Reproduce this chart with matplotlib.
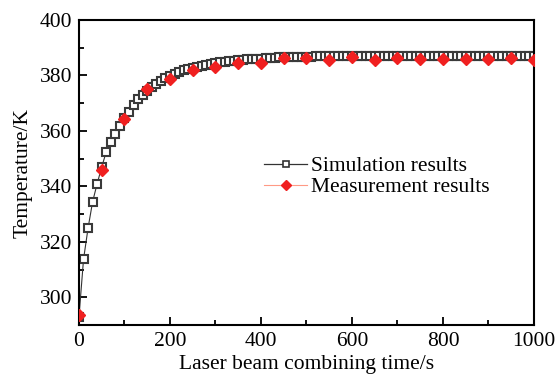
"""
Temperature vs. laser beam combining time
"""
import numpy as np
import matplotlib.pyplot as plt
from matplotlib import rcParams
from matplotlib.lines import Line2D
from matplotlib.ticker import MultipleLocator

rcParams['font.family'] = 'serif'
rcParams['font.serif'] = ['Liberation Serif', 'DejaVu Serif']
rcParams['font.size'] = 15.5
rcParams['mathtext.fontset'] = 'stix'

# simulation, every 10 s from 0 to 1000 s
sim_time = np.arange(0, 1001, 10)
sim_temp = [
    293.0, 313.7, 325.0, 334.5, 341.0, 347.0, 352.5, 356.0, 359.0, 361.8,
    364.5, 367.0, 369.5, 371.5, 373.0, 374.5, 375.8, 377.0, 378.0, 379.0,
    379.8, 380.6, 381.2, 381.8, 382.3, 382.7, 383.1, 383.5, 383.8, 384.1,
    384.4, 384.7, 384.9, 385.1, 385.3, 385.5, 385.7, 385.8, 385.9, 386.0,
    386.1, 386.2, 386.3, 386.4, 386.5, 386.6, 386.6, 386.7, 386.7, 386.8,
    386.8, 386.8, 386.9, 386.9, 386.9, 386.9, 386.9, 386.9, 386.9, 386.9,
    386.9, 387.0, 387.0, 387.0, 387.0, 387.0, 387.0, 387.0, 387.0, 387.0,
    387.0, 387.0, 387.0, 387.0, 387.0, 387.0, 387.0, 387.0, 387.0, 387.0,
    387.0, 387.0, 387.0, 387.0, 387.0, 387.0, 387.0, 387.0, 387.0, 387.0,
    387.0, 387.0, 387.0, 387.0, 387.0, 387.0, 387.0, 387.0, 387.0, 387.0,
    387.0,
]

# measurement, every 50 s
meas_time = [0, 50, 100, 150, 200, 250, 300, 350, 400, 450, 500,
             550, 600, 650, 700, 750, 800, 850, 900, 950, 1000]
meas_temp = [293.5, 345.8, 364.2, 375.0, 378.6, 382.0, 382.9, 384.4, 384.4, 386.3, 386.2,
             385.5, 386.6, 385.7, 386.3, 385.8, 385.8, 385.8, 385.9, 386.3, 385.7]

fig = plt.figure(figsize=(5.57, 3.74), dpi=100)
ax = fig.add_axes([0.1418, 0.131, 0.8169, 0.8155])

ax.plot(meas_time, meas_temp, linestyle='none',
        marker='D', markersize=6.5, markerfacecolor='#f02020',
        markeredgecolor='#f02020', zorder=3)
ax.plot(sim_time, sim_temp, '-', color='#333333', linewidth=0.8,
        marker='s', markersize=6.2, markerfacecolor='white',
        markeredgecolor='#3a3a3a', markeredgewidth=1.5, zorder=2)

ax.set_xlim(0, 1000)
ax.set_ylim(290, 400)
ax.xaxis.set_major_locator(MultipleLocator(200))
ax.xaxis.set_minor_locator(MultipleLocator(100))
ax.yaxis.set_major_locator(MultipleLocator(20))
ax.yaxis.set_minor_locator(MultipleLocator(10))
ax.tick_params(which='both', direction='in', top=False, right=False, width=1.3)
ax.tick_params(which='major', length=6, pad=5)
ax.tick_params(which='minor', length=3.5)
for sp in ax.spines.values():
    sp.set_linewidth(1.5)

ax.set_xlabel('Laser beam combining time/s', labelpad=3)
ax.set_ylabel('Temperature/K', labelpad=5)

# 图例句柄
h_sim = Line2D([], [], color='#333333', linewidth=0.9, marker='s', markersize=3.8,
               markerfacecolor='white', markeredgecolor='#333333', markeredgewidth=1.2)
h_meas = Line2D([], [], color='#ff9a85', linewidth=0.8, marker='D', markersize=5,
                markerfacecolor='#f02020', markeredgecolor='#f02020')
ax.legend([h_sim, h_meas], ['Simulation results', 'Measurement results'],
          loc='upper left', bbox_to_anchor=(0.4066, 0.554), frameon=False,
          handlelength=2.0, handletextpad=0.2, labelspacing=0.05,
          borderpad=0, borderaxespad=0)

plt.savefig('out.png', dpi=100)
plt.close()
